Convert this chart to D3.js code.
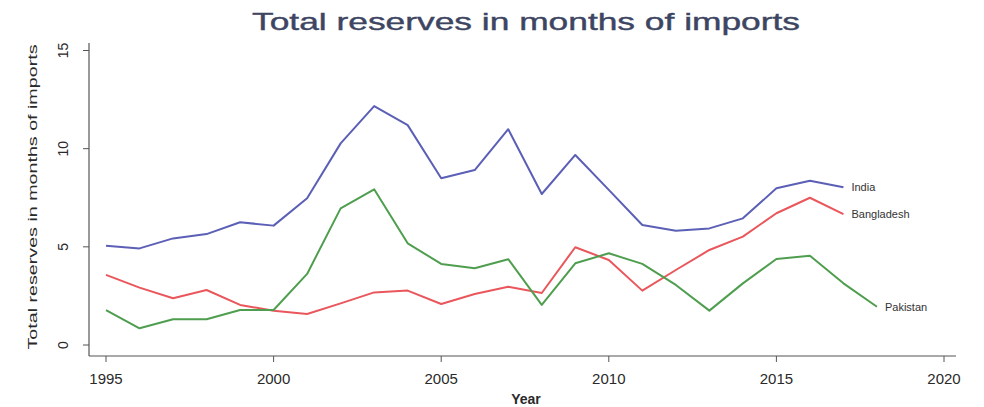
<!DOCTYPE html>
<html><head><meta charset="utf-8">
<script src="https://cdn.jsdelivr.net/npm/d3@7"></script>
<style>body{margin:0;background:#fff}svg{display:block}</style>
</head><body><svg id="c" width="984" height="407"></svg>
<script>
const years = [1995,1996,1997,1998,1999,2000,2001,2002,2003,2004,2005,2006,2007,2008,2009,2010,2011,2012,2013,2014,2015,2016,2017,2018];
const india = [5.06,4.92,5.43,5.65,6.25,6.08,7.47,10.27,12.17,11.2,8.49,8.91,10.99,7.69,9.68,7.9,6.11,5.82,5.94,6.45,7.98,8.37,8.03,null];
const bangladesh = [3.57,2.92,2.38,2.8,2.04,1.75,1.58,2.12,2.68,2.77,2.09,2.6,2.97,2.65,4.98,4.33,2.77,3.82,4.84,5.52,6.71,7.5,6.67,null];
const pakistan = [1.78,0.85,1.31,1.31,1.78,1.78,3.62,6.96,7.93,5.18,4.13,3.91,4.37,2.04,4.16,4.67,4.13,3.06,1.75,3.14,4.38,4.55,3.14,1.95];
const xTicks = [1995,2000,2005,2010,2015,2020];
const yTicks = [0,5,10,15];
const seriesNames = ["India","Bangladesh","Pakistan"];
const seriesColors = ["#5b5fb6","#e9575c","#4f9e4f"];
const seriesData = [india, bangladesh, pakistan];

const svg = d3.select("#c");
const x = d3.scaleLinear().domain([1995,2020]).range([106,944]);
const y = d3.scaleLinear().domain([0,15]).range([345,50.5]);
const font = "Liberation Sans, Arial, sans-serif";

svg.append("text").attr("x",526).attr("y",30).attr("text-anchor","middle")
  .attr("font-family",font).attr("font-size",24)
  .attr("fill","#3d4562").attr("stroke","#3d4562").attr("stroke-width",0.4)
  .attr("textLength",548).attr("lengthAdjust","spacingAndGlyphs")
  .text("Total reserves in months of imports");

// axes lines
svg.append("line").attr("x1",89).attr("x2",89).attr("y1",43).attr("y2",356).attr("stroke","#555").attr("stroke-width",1.2);
svg.append("line").attr("x1",89).attr("x2",956).attr("y1",356).attr("y2",356).attr("stroke","#555").attr("stroke-width",1.2);

const ya = svg.append("g");
yTicks.forEach(t=>{
  ya.append("line").attr("x1",83).attr("x2",89).attr("y1",y(t)).attr("y2",y(t)).attr("stroke","#555");
  ya.append("text").attr("transform",`translate(68,${y(t)}) rotate(-90)`).attr("text-anchor","middle")
    .attr("font-family",font).attr("font-size",14).attr("fill","#2a2a2a").text(t);
});
const xa = svg.append("g");
xTicks.forEach(t=>{
  xa.append("line").attr("x1",x(t)).attr("x2",x(t)).attr("y1",356).attr("y2",362).attr("stroke","#555");
  xa.append("text").attr("x",x(t)).attr("y",384).attr("text-anchor","middle")
    .attr("font-family",font).attr("font-size",15).attr("fill","#2a2a2a").text(t);
});
svg.append("text").attr("x",526).attr("y",404).attr("text-anchor","middle")
  .attr("font-family",font).attr("font-size",14).attr("fill","#2a2a2a").attr("font-weight","bold").text("Year");
svg.append("text").attr("transform","translate(37,197) rotate(-90)").attr("text-anchor","middle")
  .attr("font-family",font).attr("font-size",13.5).attr("fill","#2a2a2a")
  .attr("textLength",305).attr("lengthAdjust","spacingAndGlyphs")
  .text("Total reserves in months of imports");

const line = d3.line().defined(d=>d[1]!=null).x(d=>x(d[0])).y(d=>y(d[1]));
seriesData.forEach((vals,i)=>{
  const pts = years.map((yr,j)=>[yr,vals[j]]);
  svg.append("path").attr("d",line(pts)).attr("fill","none").attr("stroke",seriesColors[i])
    .attr("stroke-width",2).attr("stroke-linejoin","round");
  const last = pts.filter(p=>p[1]!=null).pop();
  svg.append("text").attr("x",x(last[0])+8).attr("y",y(last[1])+4)
    .attr("font-family",font).attr("font-size",11).attr("fill","#333").text(seriesNames[i]);
});
</script></body></html>
